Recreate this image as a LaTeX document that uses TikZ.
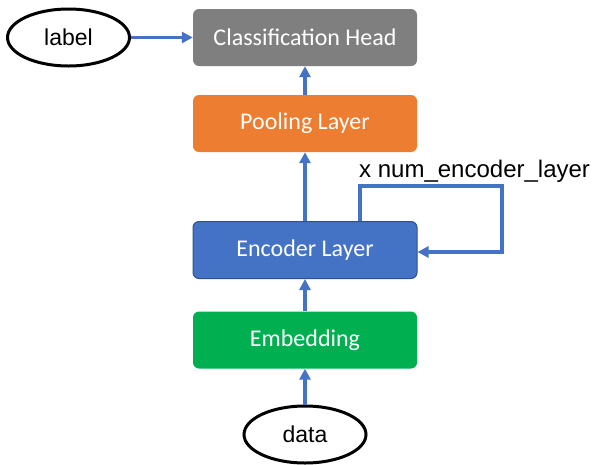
\documentclass[tikz,border=0pt]{standalone}
\usepackage{fontspec}
\setmainfont{Liberation Sans}
\newfontfamily\boxfont{Carlito}
\usetikzlibrary{arrows.meta,shapes.geometric}
\definecolor{cgray}{HTML}{7F7F7F}
\definecolor{corange}{HTML}{ED7D31}
\definecolor{cblue}{HTML}{4472C4}
\definecolor{cgreen}{HTML}{00B050}
\definecolor{cblueedge}{HTML}{2F528F}
\tikzset{
  layerbox/.style={rounded corners=6pt, minimum width=224pt, minimum height=57pt, inner sep=0pt,
    text=white, font=\boxfont\fontsize{24}{28}\selectfont},
  oval/.style={ellipse, draw=black, line width=3pt, minimum width=122pt, minimum height=57pt,
    inner sep=0pt, font=\fontsize{23}{27}\selectfont},
  flow/.style={draw=cblue, line width=3.8pt, -{Triangle[length=11pt,width=11pt]}},
}
\begin{document}
\begin{tikzpicture}[x=1pt,y=-1pt]
\useasboundingbox (0,0) rectangle (597,464);
\node[layerbox, fill=cgray] (head) at (305,37.5) {Classification Head};
\node[layerbox, fill=corange] (pool) at (305,123.5) {Pooling Layer};
\node[layerbox, fill=cblue, draw=cblueedge, line width=1pt] (enc) at (305,250) {Encoder Layer};
\node[layerbox, fill=cgreen] (emb) at (305,340) {Embedding};
\node[oval] (label) at (68.5,37.5) {label};
\node[oval] (data) at (305,434.5) {data};
\draw[flow] (label) -- (head);
\draw[flow] (data) -- (emb);
\draw[flow] (emb) -- (enc);
\draw[flow] (enc) -- (pool);
\draw[flow] (pool) -- (head);
\coordinate (la) at (360,186);
\coordinate (lb) at (502,186);
\coordinate (lc) at (502,252);
\draw[flow] (enc.north -| la) -- (la) -- (lb) -- (lc) -- (lc -| enc.east);
\node[anchor=base west, inner sep=0pt, font=\fontsize{24}{28}\selectfont] (rep) at (359,177) {x num\_encoder\_layer};
\end{tikzpicture}
\end{document}
